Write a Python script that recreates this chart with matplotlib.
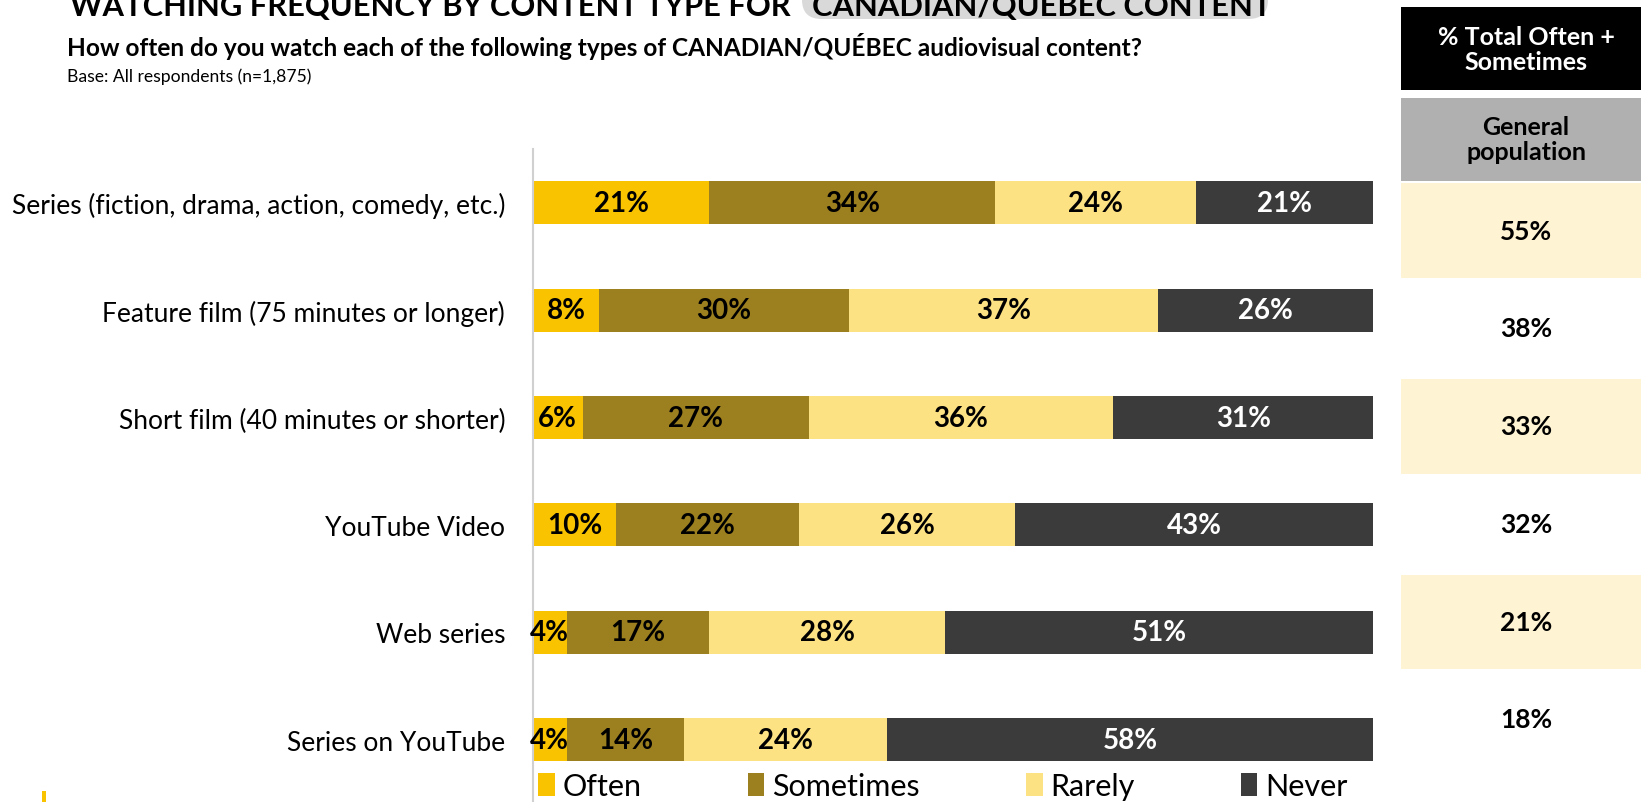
import matplotlib.pyplot as plt
from matplotlib.patches import Rectangle, FancyBboxPatch

plt.rcParams['font.family'] = ['Lato', 'DejaVu Sans']

# data
categories = ['Series (fiction, drama, action, comedy, etc.)',
              'Feature film (75 minutes or longer)',
              'Short film (40 minutes or shorter)',
              'YouTube Video',
              'Web series',
              'Series on YouTube']
often = [21.0, 7.9, 5.9, 9.9, 4.0, 4.0]
sometimes = [34.0, 29.7, 26.9, 21.8, 17.0, 14.0]
rarely = [23.9, 36.8, 36.3, 25.7, 28.1, 24.1]
never = [21.1, 25.6, 30.9, 42.6, 51.0, 58.0]
total_often_sometimes = [55, 38, 33, 32, 21, 18]

series_names = ['Often', 'Sometimes', 'Rarely', 'Never']
series_colors = ['#FAC300', '#9C7F1E', '#FCE283', '#3B3B3B']
label_colors = ['black', 'black', 'black', 'white']

W, H = 1641, 803
fig = plt.figure(figsize=(W / 100, H / 100), dpi=100)

def fx(px):
    return px / W

def fy(py):
    return 1 - py / H

# main axes: spine at x=533, bars end at 1373
ax = fig.add_axes([fx(533), 0, fx(1373) - fx(533), fy(150)])

ypos = list(range(len(categories)))
left = [0] * len(categories)
for vals, name, col, tcol in zip([often, sometimes, rarely, never], series_names,
                                 series_colors, label_colors):
    ax.barh(ypos, vals, left=left, height=0.40, color=col, label=name)
    for y, v, l in zip(ypos, vals, left):
        ax.text(l + v / 2, y, f'{round(v)}%', ha='center', va='center',
                fontsize=20, fontweight='bold', color=tcol)
    left = [a + b for a, b in zip(left, vals)]

ax.set_xlim(0, 100)
ax.set_ylim(5.58, -0.5)
ax.set_yticks(ypos)
ax.set_yticklabels(categories, fontsize=19)
ax.tick_params(axis='y', length=0, pad=20)
ax.set_xticks([])
for s in ['top', 'right', 'bottom']:
    ax.spines[s].set_visible(False)
ax.spines['left'].set_color('#d0d0d0')
ax.spines['left'].set_linewidth(1.5)

# legend
fig.legend(loc='center left', bbox_to_anchor=(fx(526), fy(787)), ncol=4,
           frameon=False, fontsize=22, handlelength=0.55, handleheight=0.8,
           handletextpad=0.25, columnspacing=3.47, borderaxespad=0)

# title (cut off at top), highlight box behind second part
fig.patches.append(FancyBboxPatch((fx(802), fy(20)), fx(1268) - fx(802), fy(-20) - fy(20),
                                  boxstyle='round,pad=0,rounding_size=0.012',
                                  transform=fig.transFigure, facecolor='#d9d9d9',
                                  edgecolor='none', zorder=0, mutation_aspect=2))
fig.text(fx(70), fy(16), 'WATCHING FREQUENCY BY CONTENT TYPE FOR',
         fontsize=22.2, fontweight='bold', va='baseline', ha='left')
fig.text(fx(812), fy(16), 'CANADIAN/QUÉBEC CONTENT',
         fontsize=22.2, fontweight='bold', va='baseline', ha='left')
fig.text(fx(67), fy(47), 'How often do you watch each of the following types of '
         'CANADIAN/QUÉBEC audiovisual content?', fontsize=17.6, fontweight='bold',
         va='center', ha='left')
fig.text(fx(67), fy(77), 'Base: All respondents (n=1,875)', fontsize=12.6,
         va='center', ha='left')

# right-hand table
px0, px1 = 1401, 1660
fig.patches.append(Rectangle((fx(px0), fy(91)), fx(px1) - fx(px0), fy(8) - fy(91),
                             transform=fig.transFigure, facecolor='black', edgecolor='none'))
fig.text(fx(1526), fy(50), '% Total Often +\nSometimes', color='white', fontsize=18,
         fontweight='bold', ha='center', va='center', linespacing=1.15)
fig.patches.append(Rectangle((fx(px0), fy(182)), fx(px1) - fx(px0), fy(99) - fy(182),
                             transform=fig.transFigure, facecolor='#B0B0B0', edgecolor='none'))
fig.text(fx(1526), fy(140), 'General\npopulation', color='black', fontsize=18,
         fontweight='bold', ha='center', va='center', linespacing=1.15)

row_tops = [184, 279, 380, 475, 576, 670]
row_bottoms = [279, 380, 475, 576, 670, 770]
for i, (val, t, b) in enumerate(zip(total_often_sometimes, row_tops, row_bottoms)):
    if i % 2 == 0:
        fig.patches.append(Rectangle((fx(px0), fy(b)), fx(px1) - fx(px0), fy(t) - fy(b),
                                     transform=fig.transFigure, facecolor='#FEF3D2',
                                     edgecolor='none'))
    fig.text(fx(1526), fy((t + b) / 2), f'{val}%', fontsize=19, fontweight='bold',
             ha='center', va='center')

# small yellow mark at bottom-left
fig.patches.append(Rectangle((fx(42), 0), fx(4), fy(792), transform=fig.transFigure,
                             facecolor='#FAC300', edgecolor='none'))

fig.savefig('out.png', dpi=100)
